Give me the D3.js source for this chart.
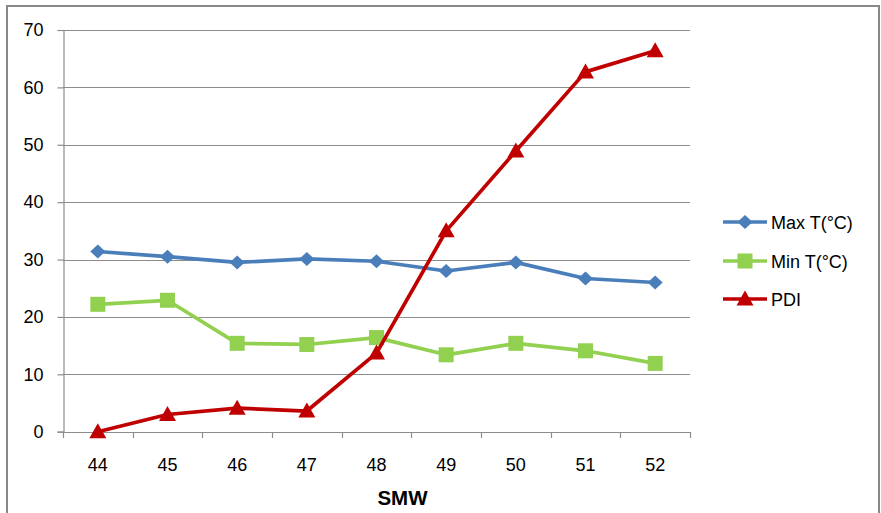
<!DOCTYPE html>
<html><head><meta charset="utf-8">
<script src="https://cdn.jsdelivr.net/npm/d3@7"></script>
<style>body{margin:0;background:#fff}svg{display:block}text{font-family:"Liberation Sans",Arial,sans-serif;fill:#000}</style>
</head><body>
<script>
const categories = ["44","45","46","47","48","49","50","51","52"];
const maxT = [31.4, 30.5, 29.5, 30.1, 29.7, 28.0, 29.5, 26.7, 26.0];
const minT = [22.2, 22.9, 15.4, 15.2, 16.4, 13.4, 15.4, 14.1, 11.9];
const pdi  = [0, 3.0, 4.1, 3.6, 13.7, 35.0, 48.9, 62.7, 66.4];
const yTicks = [0,10,20,30,40,50,60,70];
const seriesNames = ["Max T(°C)", "Min T(°C)", "PDI"];

const W = 881, H = 513;
const svg = d3.select("body").append("svg").attr("width", W).attr("height", H);
svg.append("rect").attr("x",7).attr("y",6).attr("width",872).attr("height",520)
  .attr("fill","#fff").attr("stroke","#888").attr("stroke-width",2);

const x = d3.scaleBand().domain(categories).range([63, 690]);
const y = d3.scaleLinear().domain([0,70]).range([431.7, 30]);
const gridColor = "#8c8c8c";

// gridlines
svg.append("g").selectAll("line").data(yTicks.filter(d=>d>0)).join("line")
  .attr("x1",63).attr("x2",690).attr("y1",d=>Math.round(y(d))+0.5).attr("y2",d=>Math.round(y(d))+0.5)
  .attr("stroke",gridColor).attr("stroke-width",1.2);

// y axis
const yAxis = d3.axisLeft(y).tickValues(yTicks).tickSize(6).tickPadding(14);
const gy = svg.append("g").attr("transform","translate(63.5,0)").call(yAxis);
gy.select(".domain").attr("stroke",gridColor).attr("stroke-width",1.2);
gy.selectAll(".tick line").attr("stroke",gridColor).attr("stroke-width",1.2);
gy.selectAll("text").style("font-size","18px").attr("fill","#000");

// x axis
const xAxis = d3.axisBottom(x).tickSize(0).tickPadding(26);
const gx = svg.append("g").attr("transform","translate(0,432)").call(xAxis);
gx.select(".domain").attr("stroke",gridColor).attr("stroke-width",1.2);
gx.selectAll("text").style("font-size","18px").attr("fill","#000");
// tick marks at category boundaries
const bounds = categories.map(c=>x(c)).concat([x.range()[1]]);
svg.append("g").selectAll("line").data(bounds).join("line")
  .attr("x1",d=>Math.round(d)+0.5).attr("x2",d=>Math.round(d)+0.5).attr("y1",432).attr("y2",438)
  .attr("stroke",gridColor).attr("stroke-width",1.2);

svg.append("text").attr("x",x.range()[0]+(x.range()[1]-x.range()[0])/2 + 26).attr("y",505)
  .attr("text-anchor","middle").style("font-size","20.5px").style("font-weight","bold").text("SMW");

const cx = c => x(c) + x.bandwidth()/2;
const series = [
  {name: seriesNames[0], vals: maxT, color: "#4a7ebb", marker: "diamond"},
  {name: seriesNames[1], vals: minT, color: "#92d050", marker: "square"},
  {name: seriesNames[2], vals: pdi, color: "#c00000", marker: "triangle"}
];
function markerPath(type) {
  if (type === "diamond") return "M0,-7L7.5,0L0,7L-7.5,0Z";
  if (type === "square") return "M-7.5,-7.5H7.5V7.5H-7.5Z";
  return "M0,-8.5L8.5,6.5H-8.5Z";
}
const line = d3.line().x((d,i)=>cx(categories[i])).y(d=>y(d));
series.forEach(s=>{
  svg.append("path").datum(s.vals).attr("d",line).attr("fill","none")
    .attr("stroke",s.color).attr("stroke-width",3.7).attr("stroke-linejoin","round");
  svg.append("g").selectAll("path").data(s.vals).join("path")
    .attr("transform",(d,i)=>`translate(${cx(categories[i])},${y(d)})`)
    .attr("d",markerPath(s.marker)).attr("fill",s.color);
});

// legend
const legY = [222, 261, 299];
series.forEach((s,i)=>{
  const g = svg.append("g").attr("transform",`translate(0,${legY[i]})`);
  g.append("line").attr("x1",723).attr("x2",767).attr("y1",0).attr("y2",0).attr("stroke",s.color).attr("stroke-width",3.7);
  g.append("path").attr("transform","translate(745,0)").attr("d",markerPath(s.marker)).attr("fill",s.color);
  g.append("text").attr("x",771).attr("y",6.5).style("font-size","18px").text(s.name);
});
</script>
</body></html>
